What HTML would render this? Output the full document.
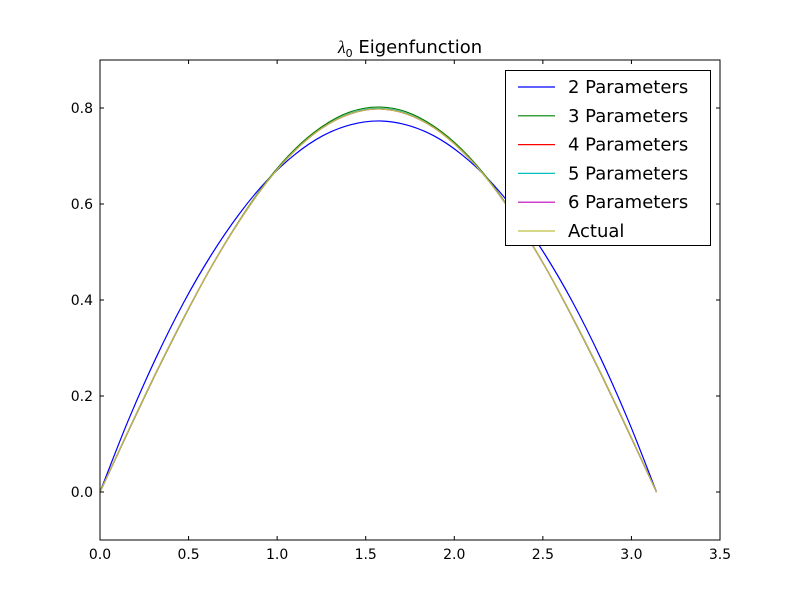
<!DOCTYPE html>
<html><head><meta charset="utf-8"><style>
body{margin:0;background:#fff;}
svg{display:block;font-family:"DejaVu Sans","Liberation Sans",sans-serif;}
</style></head><body>
<svg id="chart" width="800" height="600">
<rect width="800" height="600" fill="#fff"/>
<g id="plot"></g>
<text x="410" y="53" font-size="18" text-anchor="middle"><tspan font-family="Liberation Serif,serif" font-style="italic">λ</tspan><tspan font-size="11" dy="4">0</tspan><tspan dy="-4"> Eigenfunction</tspan></text>
</svg>
<script>
const xTicks=[0.0,0.5,1.0,1.5,2.0,2.5,3.0,3.5];
const yTicks=[0.0,0.2,0.4,0.6,0.8];
const xs=[0,0.1571,0.3142,0.4712,0.6283,0.7854,0.9425,1.0996,1.2566,1.4137,1.5708,1.7279,1.8850,2.0420,2.1991,2.3562,2.5133,2.6704,2.8274,2.9845,3.1416];
const s2=[0,0.147,0.278,0.394,0.494,0.579,0.649,0.703,0.742,0.765,0.773,0.765,0.742,0.703,0.649,0.579,0.494,0.394,0.278,0.147,0];
const s3=[0,0.124,0.246,0.361,0.469,0.565,0.648,0.714,0.762,0.792,0.802,0.792,0.762,0.714,0.648,0.565,0.469,0.361,0.246,0.124,0];
const s4=[0,0.125,0.247,0.362,0.469,0.564,0.646,0.711,0.759,0.788,0.798,0.788,0.759,0.711,0.646,0.564,0.469,0.362,0.247,0.125,0];
const s5=[0,0.125,0.247,0.362,0.469,0.564,0.646,0.711,0.759,0.789,0.799,0.789,0.759,0.711,0.646,0.564,0.469,0.362,0.247,0.125,0];
const s6=[0,0.125,0.247,0.362,0.469,0.564,0.646,0.711,0.759,0.788,0.798,0.788,0.759,0.711,0.646,0.564,0.469,0.362,0.247,0.125,0];
const sA=[0,0.125,0.247,0.362,0.469,0.564,0.646,0.711,0.759,0.788,0.798,0.788,0.759,0.711,0.646,0.564,0.469,0.362,0.247,0.125,0];
const seriesNames=["2 Parameters","3 Parameters","4 Parameters","5 Parameters","6 Parameters","Actual"];
const seriesData=[s2,s3,s4,s5,s6,sA];
const colors=["#0000ff","#008000","#ff0000","#00bfbf","#bf00bf","#bfbf40"];
const L=100,R=720,T=60,B=540;
const X=v=>L+(v-0)/(3.5-0)*(R-L);
const Y=v=>B-(v+0.1)/(1.0)*(B-T);
const NS="http://www.w3.org/2000/svg";
const g=document.getElementById('plot');
function mk(t,a,p){const e=document.createElementNS(NS,t);for(const k in a)e.setAttribute(k,a[k]);(p||g).appendChild(e);return e;}
function smooth(pts){
  let d='M'+pts[0][0]+','+pts[0][1];
  for(let i=0;i<pts.length-1;i++){
    const p0=pts[Math.max(i-1,0)],p1=pts[i],p2=pts[i+1],p3=pts[Math.min(i+2,pts.length-1)];
    const c1x=p1[0]+(p2[0]-p0[0])/6,c1y=p1[1]+(p2[1]-p0[1])/6;
    const c2x=p2[0]-(p3[0]-p1[0])/6,c2y=p2[1]-(p3[1]-p1[1])/6;
    d+=' C'+c1x+','+c1y+' '+c2x+','+c2y+' '+p2[0]+','+p2[1];
  }
  return d;
}
seriesData.forEach((d,i)=>{
  const el=mk('path',{d:smooth(d.map((v,j)=>[X(xs[j]),Y(v)])),fill:'none',stroke:colors[i],'stroke-width':1.2});
  
  
});
const frame=mk('rect',{x:L,y:T,width:R-L,height:B-T,fill:'none',stroke:'#000','stroke-width':1});


xTicks.forEach(v=>{
  const x=X(v);
  mk('line',{x1:x,y1:B,x2:x,y2:B-4,stroke:'#000'});
  mk('line',{x1:x,y1:T,x2:x,y2:T+4,stroke:'#000'});
  const t=mk('text',{x:x,y:B+19,'font-size':14,'text-anchor':'middle'});t.textContent=v.toFixed(1);
  
  
});
yTicks.forEach(v=>{
  const y=Y(v);
  mk('line',{x1:L,y1:y,x2:L+4,y2:y,stroke:'#000'});
  mk('line',{x1:R,y1:y,x2:R-4,y2:y,stroke:'#000'});
  const t=mk('text',{x:L-7,y:y+5,'font-size':14,'text-anchor':'end'});t.textContent=v.toFixed(1);
  
  
});
const lg=mk('g',{});


mk('rect',{x:505.5,y:70.5,width:205,height:175,fill:'#fff',stroke:'#000'},lg);
seriesNames.forEach((n,i)=>{
  const y=87+i*28.8;
  const e=mk('g',{},lg);
  
  
  mk('line',{x1:518,y1:y,x2:555,y2:y,stroke:colors[i],'stroke-width':1.2},e);
  const t=mk('text',{x:568,y:y+6,'font-size':18},e);t.textContent=n;
});
</script>
</body></html>
